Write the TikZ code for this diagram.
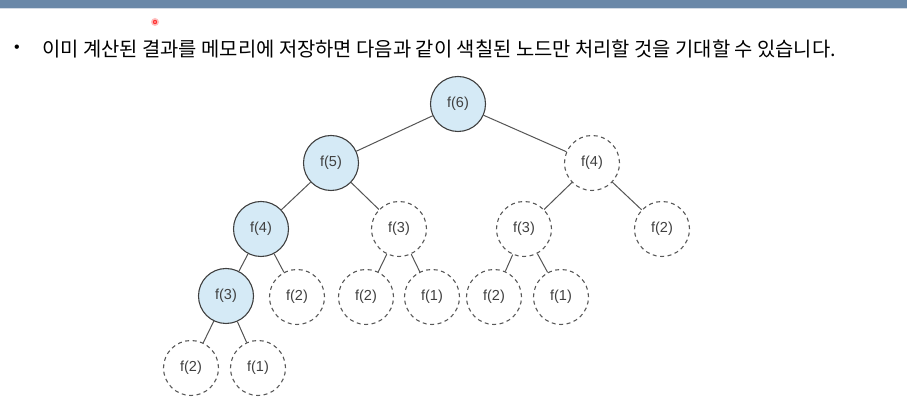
\documentclass[tikz,border=0pt]{standalone}
\usepackage{fontspec}
\setmainfont{Liberation Sans}
\newfontfamily\kr{Noto Sans CJK KR}
\definecolor{barblue}{HTML}{6A88A8}
\definecolor{nodeblue}{HTML}{D5EAF6}
\definecolor{edgegray}{HTML}{555555}
\begin{document}
\begin{tikzpicture}[x=1pt,y=1pt,
  fnode/.style={circle,minimum size=55pt,inner sep=0pt,font=\fontsize{14.5}{15}\selectfont,text=black!75},
  memo/.style={fnode,draw=black!75,line width=1.1pt,fill=nodeblue},
  todo/.style={fnode,draw=black!65,line width=1.1pt,dash pattern=on 4pt off 3.5pt},
  edge/.style={draw=edgegray,line width=1pt}]
\useasboundingbox (0,0) rectangle (907,411);
\fill[white] (0,0) rectangle (907,411);
\fill[barblue] (0,403) rectangle (907,411);
\fill[barblue!30] (0,401.5) rectangle (907,403);
\fill[red!25] (155,389) circle (4pt);
\fill[red!80] (155,389) circle (2.2pt);
\fill[red!20] (155,389) circle (0.9pt);
\node[anchor=west,inner sep=0pt] (bullet) at (14,362.5) {\fontsize{16}{18}\selectfont •};
\node[anchor=west,inner sep=0pt] (txt) at (42,362.5) {\kr\fontsize{19.85}{22}\selectfont 이미 계산된 결과를 메모리에 저장하면 다음과 같이 색칠된 노드만 처리할 것을 기대할 수 있습니다.};
% nodes
\node[memo] (f6) at (458,307) {f(6)};
\node[memo] (f5) at (331,248) {f(5)};
\node[todo] (r4) at (592,248) {f(4)};
\node[memo] (f4) at (261,182) {f(4)};
\node[todo] (m3) at (399,182) {f(3)};
\node[todo] (r3) at (524,182) {f(3)};
\node[todo] (r2) at (662,182) {f(2)};
\node[memo] (f3) at (226,115) {f(3)};
\node[todo] (a2) at (297,114) {f(2)};
\node[todo] (b2) at (366,114) {f(2)};
\node[todo] (b1) at (432,114) {f(1)};
\node[todo] (c2) at (494,114) {f(2)};
\node[todo] (c1) at (561,114) {f(1)};
\node[todo] (d2) at (191,43) {f(2)};
\node[todo] (d1) at (258,43) {f(1)};
% edges
\draw[edge] (f6) -- (f5);
\draw[edge] (f6) -- (r4);
\draw[edge] (f5) -- (f4);
\draw[edge] (f5) -- (m3);
\draw[edge] (r4) -- (r3);
\draw[edge] (r4) -- (r2);
\draw[edge] (f4) -- (f3);
\draw[edge] (f4) -- (a2);
\draw[edge] (m3) -- (b2);
\draw[edge] (m3) -- (b1);
\draw[edge] (r3) -- (c2);
\draw[edge] (r3) -- (c1);
\draw[edge] (f3) -- (d2);
\draw[edge] (f3) -- (d1);
\end{tikzpicture}
\end{document}
